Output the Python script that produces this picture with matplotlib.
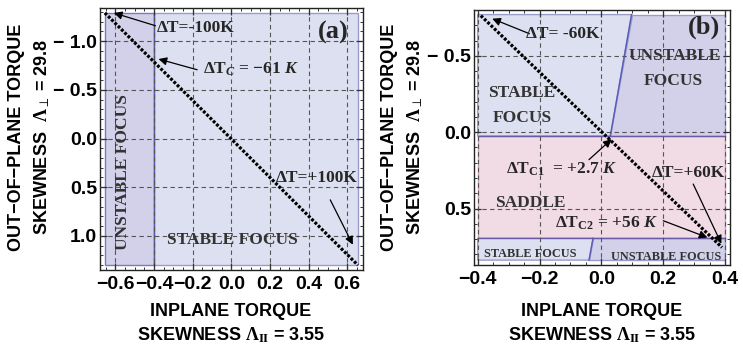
import matplotlib
matplotlib.use("Agg")
import matplotlib.pyplot as plt
from matplotlib.ticker import MultipleLocator

plt.rcParams['mathtext.fontset'] = 'custom'
plt.rcParams['mathtext.rm'] = 'Liberation Serif:bold'
plt.rcParams['mathtext.bf'] = 'Liberation Serif:bold'
plt.rcParams['mathtext.it'] = 'Liberation Serif:italic:bold'
plt.rcParams['axes.unicode_minus'] = True

# ---------------- data ----------------
# panel (a)
a_xticks = [-0.6, -0.4, -0.2, 0.0, 0.2, 0.4, 0.6]
a_yticks = [-1.0, -0.5, 0.0, 0.5, 1.0]
a_xticklabels = ['\u22120.6', '\u22120.4', '\u22120.2', '0.0', '0.2', '0.4', '0.6']
a_yticklabels = ['\u2212 1.0', '\u2212 0.5', '0.0', '0.5', '1.0']
a_region_x = [-0.655, 0.655]
a_region_y = [-1.29, 1.30]
a_boundary_x = -0.40          # Delta T_C = -61 K
a_diag_x = [-0.655, 0.655]    # Delta T = -100 K ... +100 K
a_diag_y = [-1.29, 1.30]

# panel (b)
b_xticks = [-0.4, -0.2, 0.0, 0.2, 0.4]
b_yticks = [-0.5, 0.0, 0.5]
b_xticklabels = ['\u22120.4', '\u22120.2', '0.0', '0.2', '0.4']
b_yticklabels = ['\u2212 0.5', '0.0', '0.5']
b_region_x = [-0.40, 0.40]
b_region_y = [-0.77, 0.838]
b_hline1 = 0.025              # Delta T_C1 = +2.7 K
b_hline2 = 0.695              # Delta T_C2 = +56 K
b_top_split_x = [0.0976, 0.029]   # x of focus boundary at top / at hline1
b_bot_split_x = [-0.027, -0.040]  # x of focus boundary at hline2 / at bottom
b_diag_x = [-0.39, 0.39]      # Delta T = -60 K ... +60 K
b_diag_y = [-0.763, 0.755]

C_STABLE = '#dce0f0'
C_UNSTABLE = '#d2d1e9'
C_SADDLE = '#f1dbe5'
C_EDGE = '#7a7ac0'
TXT = '#262626'
MINUS = '\u2212'

fig = plt.figure(figsize=(7.43, 3.52), dpi=100)
ax1 = fig.add_axes([100/743, 1-270/352, (362.7-100)/743, (270-8)/352])
ax2 = fig.add_axes([474/743, 1-265/352, (730-474)/743, (265-10)/352])

tickfont = dict(family='Liberation Sans', weight='bold', size=14)
serif = dict(family='Liberation Serif', weight='bold')


def style_axes(ax, xt, yt, xl, yl, xminor, yminor):
    ax.set_xticks(xt)
    ax.set_yticks(yt)
    ax.set_xticklabels(xl)
    ax.set_yticklabels(yl)
    ax.xaxis.set_minor_locator(MultipleLocator(xminor))
    ax.yaxis.set_minor_locator(MultipleLocator(yminor))
    ax.tick_params(which='both', direction='in', top=True, right=True,
                   color='#333333')
    ax.tick_params(which='major', length=5, width=0.9)
    ax.tick_params(which='minor', length=2.5, width=0.7)
    ax.tick_params(axis='x', pad=4)
    ax.tick_params(axis='y', pad=2)
    for lab in ax.get_xticklabels() + ax.get_yticklabels():
        lab.set(**tickfont)
    for s in ax.spines.values():
        s.set_color('#222222')
        s.set_linewidth(1.0)
    ax.set_axisbelow(False)
    ax.grid(True, which='major', color='#555555', lw=0.8,
            linestyle=(0, (4, 3)), zorder=2)


# ---------------- panel (a) ----------------
ax1.fill([a_region_x[0], a_boundary_x, a_boundary_x, a_region_x[0]],
         [a_region_y[0], a_region_y[0], a_region_y[1], a_region_y[1]],
         facecolor=C_UNSTABLE, edgecolor=C_EDGE, lw=1.0, zorder=1)
ax1.fill([a_boundary_x, a_region_x[1], a_region_x[1], a_boundary_x],
         [a_region_y[0], a_region_y[0], a_region_y[1], a_region_y[1]],
         facecolor=C_STABLE, edgecolor='#9a9ccc', lw=1.0, zorder=1)
ax1.plot([a_boundary_x, a_boundary_x], a_region_y, color='#5a5ab8', lw=1.0, zorder=1.5)
ax1.plot(a_diag_x, a_diag_y, color='black', lw=2.3,
         linestyle=(0, (0.9, 0.55)), zorder=3)
ax1.set_xlim(-0.68, 0.68)
ax1.set_ylim(1.35, -1.34)
style_axes(ax1, a_xticks, a_yticks, a_xticklabels, a_yticklabels, 0.05, 0.1)

arrow = dict(arrowstyle='-|>', color='black', lw=0.9, mutation_scale=12,
             shrinkA=0, shrinkB=0)
ax1.annotate('', xy=(-0.608, -1.289), xytext=(-0.393, -1.158), arrowprops=arrow, zorder=4)
ax1.annotate('', xy=(-0.377, -0.816), xytext=(-0.177, -0.706), arrowprops=arrow, zorder=4)
ax1.annotate('', xy=(0.629, 1.09), xytext=(0.512, 0.63), arrowprops=arrow, zorder=4)

ax1.text(-0.186, -1.135, '\u0394T=-100K', ha='center', va='center', color=TXT,
         size=12.5, **serif, zorder=5)
ax1.text(0.103, -0.706, r'$\mathbf{\Delta T}_{\mathit{C}}$ = ' + MINUS + r'61 $\mathit{K}$',
         ha='center', va='center', color=TXT, size=12.5, **serif, zorder=5)
ax1.text(0.527, -1.086, '(a)', ha='center', va='center', color=TXT,
         size=19, **serif, zorder=5)
ax1.text(-0.563, 0.34, 'UNSTABLE FOCUS', ha='center', va='center', rotation=90,
         color='#333333', size=12.5, **serif, zorder=5)
ax1.text(0.005, 1.04, 'STABLE FOCUS', ha='center', va='center',
         color='#333333', size=12.5, **serif, zorder=5)
ax1.text(0.444, 0.405, '\u0394T=+100K', ha='center', va='center', color=TXT,
         size=12.5, **serif, zorder=5)

# ---------------- panel (b) ----------------
x0, x1 = b_region_x
y0, y1 = b_region_y
ax2.fill([x0, b_top_split_x[0], b_top_split_x[1], x0], [y0, y0, b_hline1, b_hline1],
         facecolor=C_STABLE, edgecolor='#9a9ccc', lw=1.0, zorder=1)
ax2.fill([b_top_split_x[0], x1, x1, b_top_split_x[1]], [y0, y0, b_hline1, b_hline1],
         facecolor=C_UNSTABLE, edgecolor='#9a9ccc', lw=1.0, zorder=1)
ax2.fill([x0, x1, x1, x0], [b_hline1, b_hline1, b_hline2, b_hline2],
         facecolor=C_SADDLE, edgecolor='#c9a0b8', lw=1.0, zorder=1)
ax2.fill([x0, b_bot_split_x[0], b_bot_split_x[1], x0], [b_hline2, b_hline2, y1, y1],
         facecolor=C_STABLE, edgecolor='#9a9ccc', lw=1.0, zorder=1)
ax2.fill([b_bot_split_x[0], x1, x1, b_bot_split_x[1]], [b_hline2, b_hline2, y1, y1],
         facecolor=C_UNSTABLE, edgecolor='#9a9ccc', lw=1.0, zorder=1)
ax2.plot(b_top_split_x, [y0, b_hline1], color='#5a5ab8', lw=1.0, zorder=1.5)
ax2.plot(b_bot_split_x, [b_hline2, y1], color='#5a5ab8', lw=1.0, zorder=1.5)
ax2.plot([x0, x1], [b_hline1, b_hline1], color='#6a5aa8', lw=1.0, zorder=1.5)
ax2.plot([x0, x1], [b_hline2, b_hline2], color='#6a5aa8', lw=1.0, zorder=1.5)
ax2.plot(b_diag_x, b_diag_y, color='black', lw=2.3,
         linestyle=(0, (0.9, 0.55)), zorder=3)
ax2.set_xlim(-0.412, 0.416)
ax2.set_ylim(0.87, -0.80)
style_axes(ax2, b_xticks, b_yticks, b_xticklabels, b_yticklabels, 0.05, 0.1)

ax2.annotate('', xy=(-0.353, -0.743), xytext=(-0.233, -0.645), arrowprops=arrow, zorder=4)
ax2.annotate('', xy=(0.033, 0.046), xytext=(-0.04, 0.18), arrowprops=arrow, zorder=4)
ax2.annotate('', xy=(0.388, 0.73), xytext=(0.297, 0.34), arrowprops=arrow, zorder=4)
ax2.annotate('', xy=(0.343, 0.69), xytext=(0.2, 0.58), arrowprops=arrow, zorder=4)

ax2.text(-0.124, -0.645, '\u0394T= -60K', ha='center', va='center', color=TXT,
         size=12.5, **serif, zorder=5)
ax2.text(0.333, -0.684, '(b)', ha='center', va='center', color=TXT,
         size=19, **serif, zorder=5)
ax2.text(0.238, -0.50, 'UNSTABLE', ha='center', va='center', color='#333333',
         size=12.5, **serif, zorder=5)
ax2.text(0.232, -0.336, 'FOCUS', ha='center', va='center', color='#333333',
         size=12.5, **serif, zorder=5)
ax2.text(-0.259, -0.257, 'STABLE', ha='center', va='center', color='#333333',
         size=12.5, **serif, zorder=5)
ax2.text(-0.256, -0.092, 'FOCUS', ha='center', va='center', color='#333333',
         size=12.5, **serif, zorder=5)
ax2.text(-0.129, 0.243, r'$\mathbf{\Delta T}_{\mathbf{C1}}$  = +2.7 $\mathit{K}$',
         ha='center', va='center', color=TXT, size=12.5, **serif, zorder=5)
ax2.text(0.281, 0.27, '\u0394T=+60K', ha='center', va='center', color=TXT,
         size=12.5, **serif, zorder=5)
ax2.text(-0.23, 0.467, 'SADDLE', ha='center', va='center', color='#333333',
         size=12.5, **serif, zorder=5)
ax2.text(0.017, 0.599, r'$\mathbf{\Delta T}_{\mathbf{C2}}$ = +56 $\mathit{K}$',
         ha='center', va='center', color=TXT, size=12.5, **serif, zorder=5)
ax2.text(-0.23, 0.80, 'STABLE FOCUS', ha='center', va='center', color='#333333',
         size=8.8, **serif, zorder=5)
ax2.text(0.209, 0.816, 'UNSTABLE FOCUS', ha='center', va='center', color='#333333',
         size=8.8, **serif, zorder=5)

# ---------------- axis labels ----------------
lab = dict(family='Liberation Sans', weight='bold', color='black',
           ha='center', va='center', size=13)
for xc in (231/743, 602/743):
    fig.text(xc, 1-311/352, 'INPLANE TORQUE', **lab)
    fig.text(xc, 1-335/352, r'SKEWNESS $\Lambda_{\mathrm{II}}$ = 3.55', **lab)
for xa, xb in ((17/743, 42/743), (390/743, 415/743)):
    fig.text(xa, 1-137/352, 'OUT\u2212OF\u2212PLANE TORQUE', rotation=90, **lab)
    fig.text(xb, 1-137/352, r'SKEWNESS  $\Lambda_{\perp}$ = 29.8', rotation=90, **lab)

fig.savefig('out.png', dpi=100)
